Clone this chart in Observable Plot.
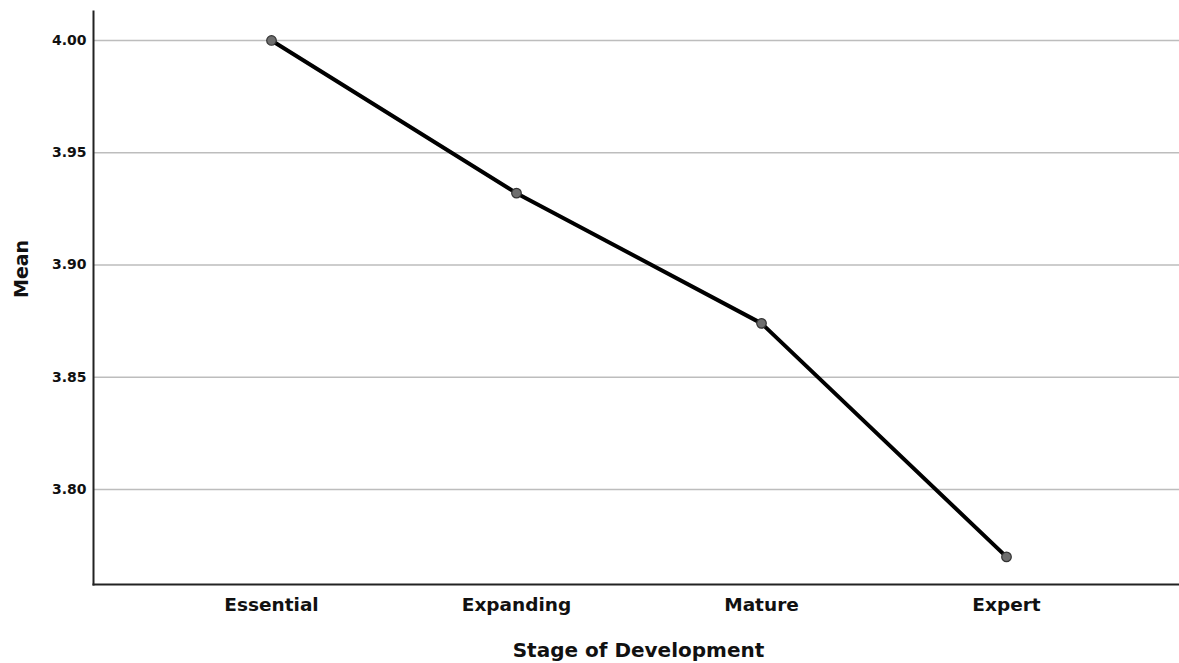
<!DOCTYPE html>
<html>
<head>
<meta charset="utf-8">
<script src="https://cdn.jsdelivr.net/npm/d3@7"></script>
<script src="https://cdn.jsdelivr.net/npm/@observablehq/plot@0.6"></script>
<style>
  html, body { margin: 0; padding: 0; background: #fff; }
  #chart svg { display: block; }
</style>
</head>
<body>
<div id="chart"></div>
<script>
const stages = ["Essential", "Expanding", "Mature", "Expert"];
const means = [4.000, 3.932, 3.874, 3.770];
const yTicks = [3.80, 3.85, 3.90, 3.95, 4.00];
const xTitle = "Stage of Development";
const yTitle = "Mean";

const data = stages.map((s, i) => ({stage: s, mean: means[i]}));
const font = "DejaVu Sans, sans-serif";

let frameMarks;
try {
  frameMarks = [
    Plot.frame({anchor: "left", stroke: "#222", strokeWidth: 2}),
    Plot.frame({anchor: "bottom", stroke: "#222", strokeWidth: 2})
  ];
} catch (e) {
  frameMarks = [Plot.ruleY([3.7577], {stroke: "#222", strokeWidth: 2})];
}

const chart = Plot.plot({
  width: 1179,
  height: 663,
  marginLeft: 93,
  marginRight: 0,
  marginTop: 11,
  marginBottom: 79,
  style: {fontFamily: font, background: "#fff", color: "#111"},
  x: {type: "point", domain: stages, padding: 0.72, range: [93, 1184], axis: null},
  y: {domain: [3.7577, 4.0129], axis: null},
  marks: [
    Plot.ruleY(yTicks, {stroke: "#bdbdbd", strokeWidth: 1.5}),
    ...frameMarks,
    Plot.axisY(yTicks, {tickSize: 0, tickPadding: 7, tickFormat: d3.format(".2f"), fontSize: 14, fontWeight: "bold", label: null}),
    Plot.axisX({tickSize: 0, tickPadding: 13, fontSize: 18.5, fontWeight: "bold", label: null}),
    Plot.text([xTitle], {frameAnchor: "bottom", lineAnchor: "top", dy: 58, dx: 2, fontSize: 20, fontWeight: "bold", fill: "#111"}),
    Plot.text([yTitle], {frameAnchor: "left", rotate: -90, dx: -72, fontSize: 19, fontWeight: "bold", fill: "#111"}),
    Plot.line(data, {x: "stage", y: "mean", stroke: "#000", strokeWidth: 4}),
    Plot.dot(data, {x: "stage", y: "mean", r: 4.8, fill: "#6e6e6e", stroke: "#333", strokeWidth: 1.2})
  ]
});
document.getElementById("chart").appendChild(chart);
</script>
</body>
</html>
